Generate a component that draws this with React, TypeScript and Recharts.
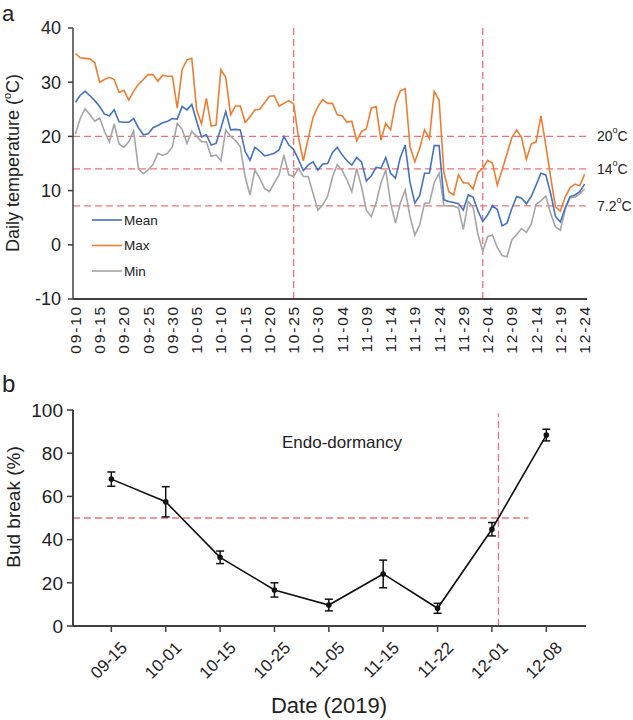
import React from 'react';
import { LineChart, Line, XAxis, YAxis, ReferenceLine, ErrorBar } from 'recharts';

const FONT = '"Liberation Sans", Arial, sans-serif';
const AXIS = '#404040';
const REF = '#F0707A';

// panel a: daily temperature, one value per day from 09-10 to 12-24
const dayTicks = [
  '09-10', '09-15', '09-20', '09-25', '09-30', '10-05', '10-10', '10-15', '10-20', '10-25', '10-30',
  '11-04', '11-09', '11-14', '11-19', '11-24', '11-29', '12-04', '12-09', '12-14', '12-19', '12-24',
];

const maxTemp = [
  35.3, 34.5, 34.4, 34.3, 33.6, 30.0, 30.5, 30.9, 30.5, 28.1,
  28.5, 26.7, 28.3, 29.6, 30.5, 31.4, 31.4, 30.2, 31.3, 31.1,
  31.1, 25.2, 32.3, 34.1, 34.4, 24.9, 22.3, 27.0, 21.9, 22.1,
  32.3, 30.9, 24.0, 25.6, 25.6, 22.6, 23.6, 24.9, 25.0, 26.2,
  27.4, 27.5, 25.6, 26.1, 26.6, 26.0, 19.8, 15.5, 19.6, 23.5,
  25.5, 26.8, 26.1, 26.1, 24.0, 23.8, 22.6, 22.8, 19.2, 20.9,
  21.4, 25.2, 25.5, 19.3, 22.4, 21.2, 26.1, 28.4, 28.8, 18.1,
  15.3, 17.8, 21.2, 19.6, 28.3, 26.7, 13.3, 9.8, 9.2, 12.9,
  11.4, 11.4, 10.3, 13.3, 14.1, 15.6, 15.1, 11.0, 13.8, 16.8,
  19.8, 21.2, 19.8, 15.8, 18.6, 19.0, 23.8, 18.4, 12.5, 7.0,
  6.2, 8.8, 10.5, 11.2, 10.9, 13.0,
];

const meanTemp = [
  26.3, 27.6, 28.3, 27.5, 26.6, 25.5, 24.1, 23.8, 24.9, 22.7,
  22.6, 22.6, 23.3, 21.6, 20.3, 20.5, 21.6, 22.0, 22.5, 22.8,
  23.3, 23.2, 25.5, 24.9, 25.9, 22.8, 19.9, 20.3, 18.4, 18.7,
  21.5, 24.6, 21.2, 21.3, 21.2, 17.2, 15.6, 18.0, 17.3, 16.4,
  16.6, 16.9, 17.5, 20.0, 18.4, 17.6, 15.7, 13.7, 14.7, 15.3,
  13.8, 14.9, 15.0, 17.0, 18.0, 16.6, 15.5, 14.7, 16.1, 15.3,
  11.8, 12.7, 14.3, 14.1, 16.1, 13.2, 12.3, 16.1, 18.4, 11.5,
  7.7, 9.1, 13.2, 13.2, 18.3, 18.3, 8.3, 8.0, 7.8, 7.6,
  6.4, 9.2, 8.8, 6.3, 4.3, 5.5, 7.2, 6.5, 3.5, 4.0,
  6.7, 8.9, 8.6, 7.6, 8.9, 11.0, 13.2, 12.9, 9.5, 5.2,
  4.2, 6.8, 8.9, 9.2, 9.8, 11.2,
];

const minTemp = [
  20.5, 23.3, 25.1, 24.0, 22.8, 23.4, 20.9, 19.0, 22.3, 18.6,
  18.0, 19.0, 21.0, 14.0, 13.1, 13.8, 14.8, 16.9, 16.5, 16.9,
  18.1, 22.4, 21.3, 18.7, 20.9, 20.0, 19.0, 19.0, 16.3, 16.6,
  15.5, 21.2, 20.0, 19.3, 18.1, 12.6, 9.2, 13.8, 12.3, 10.4,
  9.8, 11.4, 12.9, 16.6, 12.9, 12.6, 14.1, 12.6, 12.6, 9.5,
  6.4, 7.4, 8.9, 12.5, 14.8, 13.7, 12.0, 9.8, 14.1, 10.7,
  6.4, 5.2, 7.7, 11.4, 13.8, 7.7, 4.0, 7.7, 10.1, 5.2,
  1.8, 3.7, 7.7, 7.7, 11.5, 13.2, 7.2, 7.2, 7.1, 6.8,
  2.8, 8.0, 7.0, 2.0, -1.2, 1.5, 1.8, -0.5, -2.0, -2.2,
  0.9, 1.9, 3.0, 2.3, 3.8, 7.5, 8.1, 9.0, 5.8, 3.3,
  2.7, 6.5, 8.7, 8.8, 9.4, 10.3,
];

const tempTicks = [-10, 0, 10, 20, 30, 40];
const thresholds = [20, 14, 7.2];
const periodLines = [45, 84]; // day index of the two dashed verticals

// panel b: bud break
const budDates = ['09-15', '10-01', '10-15', '10-25', '11-05', '11-15', '11-22', '12-01', '12-08'];
const budBreak = [68.0, 57.5, 31.8, 16.7, 9.7, 24.1, 8.2, 44.8, 88.4];
const budErr = [3.3, 7.0, 2.9, 3.3, 2.7, 6.4, 2.3, 3.1, 2.7];
const budTicks = [0, 20, 40, 60, 80, 100];
const budDomain = [-0.705, 8.73];
const halfLineEnd = 7.67;
const breakPoint = 7.12;

const series = [
  { key: 'min', name: 'Min', color: '#A5A5A5' },
  { key: 'max', name: 'Max', color: '#ED7D31' },
  { key: 'mean', name: 'Mean', color: '#4472C4' },
];

const DayTick = (props: any) => {
  const { x, y, payload } = props;
  const ty = y - 2;
  return (
    <text x={x} y={ty} transform={`rotate(-90 ${x} ${ty})`} textAnchor="end" dominantBaseline="central"
      fontSize={15.5} letterSpacing={1.8} fill="#222" fontFamily={FONT}>
      {dayTicks[Math.round(payload.value / 5)]}
    </text>
  );
};

const BudTick = (props: any) => {
  const { x, y, payload } = props;
  const tx = x + 13;
  const ty = y + 11;
  return (
    <text x={tx} y={ty} transform={`rotate(-45 ${tx} ${ty})`} textAnchor="end" dominantBaseline="central"
      fontSize={17} fill="#222" fontFamily={FONT}>
      {budDates[payload.value]}
    </text>
  );
};

const ThresholdLabel = (value: number) => (props: any) => {
  const vb = props.viewBox || {};
  const x = (vb.x || 0) + (vb.width || 0) + 10;
  const y = vb.y || 0;
  return (
    <text x={x} y={y} dominantBaseline="central" fontSize={14} fill="#222" fontFamily={FONT}>
      {value}
      <tspan dy={-6} fontSize={9}>o</tspan>
      <tspan dy={6}>C</tspan>
    </text>
  );
};

const TempTitle = () => (
  <text x={13} y={163} transform="rotate(-90 13 163)" textAnchor="middle" dominantBaseline="central"
    fontSize={18} fill="#222" fontFamily={FONT}>
    Daily temperature (
    <tspan dy={-6} fontSize={11}>o</tspan>
    <tspan dy={6}>C)</tspan>
  </text>
);

const BudTitle = () => (
  <text x={13} y={127} transform="rotate(-90 13 127)" textAnchor="middle" dominantBaseline="central"
    fontSize={19} fill="#222" fontFamily={FONT}>
    Bud break (%)
  </text>
);

const DateTitle = () => (
  <text x={329} y={333} textAnchor="middle" fontSize={22} fill="#222" fontFamily={FONT}>
    Date (2019)
  </text>
);

export default function App() {
  const tempData = meanTemp.map((m, i) => ({ day: i, mean: m, max: maxTemp[i], min: minTemp[i] }));
  const budData = budBreak.map((v, i) => ({ idx: i, value: v, err: budErr[i] }));
  const dayTickValues = dayTicks.map((_, k) => k * 5);
  const budTickValues = budDates.map((_, k) => k);

  return (
    <div style={{ position: 'absolute', left: 0, top: 0, width: 633, height: 720, background: '#fff', fontFamily: FONT }}>
      <div style={{ position: 'absolute', left: 0, top: 0 }}>
        <LineChart width={633} height={375} data={tempData} margin={{ top: 28, right: 46, bottom: 6, left: 0 }}>
          <XAxis dataKey="day" type="number" domain={[-0.5, 105.5]} ticks={dayTickValues} interval={0}
            allowDataOverflow tick={<DayTick />} tickLine={false} height={70}
            axisLine={{ stroke: AXIS, strokeWidth: 2 }} />
          <YAxis domain={[-10, 40]} ticks={tempTicks} width={73} allowDataOverflow
            tick={{ fontSize: 18, fill: '#222', fontFamily: FONT }} tickSize={5} tickMargin={7}
            tickLine={{ stroke: AXIS, strokeWidth: 1.5 }} axisLine={{ stroke: AXIS, strokeWidth: 1.5 }}
            label={<TempTitle />} />
          {thresholds.map((t) => (
            <ReferenceLine key={t} y={t} stroke={REF} strokeWidth={1.3} strokeDasharray="7 4"
              label={ThresholdLabel(t)} />
          ))}
          {periodLines.map((d) => (
            <ReferenceLine key={d} x={d} stroke={REF} strokeWidth={1.3} strokeDasharray="7 4" />
          ))}
          {series.map((s) => (
            <Line key={s.key} dataKey={s.key} name={s.name} stroke={s.color} strokeWidth={1.6}
              dot={false} type="linear" isAnimationActive={false} />
          ))}
        </LineChart>
      </div>

      <div style={{ position: 'absolute', left: 0, top: 380 }}>
        <LineChart width={633} height={340} data={budData} margin={{ top: 30, right: 47, bottom: 0, left: 0 }}>
          <XAxis dataKey="idx" type="number" domain={budDomain} ticks={budTickValues} interval={0}
            allowDataOverflow tick={<BudTick />} tickSize={6} height={94}
            tickLine={{ stroke: AXIS, strokeWidth: 1.5 }} axisLine={{ stroke: AXIS, strokeWidth: 2 }}
            label={<DateTitle />} />
          <YAxis domain={[0, 100]} ticks={budTicks} width={73} allowDataOverflow
            tick={{ fontSize: 19, fill: '#222', fontFamily: FONT }} tickSize={6} tickMargin={4}
            tickLine={{ stroke: AXIS, strokeWidth: 1.5 }} axisLine={{ stroke: AXIS, strokeWidth: 2 }}
            label={<BudTitle />} />
          <ReferenceLine segment={[{ x: budDomain[0], y: 50 }, { x: halfLineEnd, y: 50 }]}
            stroke={REF} strokeWidth={1.3} strokeDasharray="7 4" />
          <ReferenceLine segment={[{ x: breakPoint, y: 0 }, { x: breakPoint, y: 98.5 }]}
            stroke={REF} strokeWidth={1.3} strokeDasharray="7 4" />
          <Line dataKey="value" stroke="#111" strokeWidth={1.6} type="linear" isAnimationActive={false}
            dot={{ r: 2, fill: '#111', stroke: '#111' }}>
            <ErrorBar dataKey="err" width={4} stroke="#111" strokeWidth={1.5} direction="y" isAnimationActive={false} />
          </Line>
        </LineChart>
      </div>

      <svg width={633} height={720} style={{ position: 'absolute', left: 0, top: 0, pointerEvents: 'none' }}>
        <text x={2} y={21} fontSize={22} fill="#222" fontFamily={FONT}>a</text>
        <text x={2} y={392} fontSize={24} fill="#222" fontFamily={FONT}>b</text>
        {[...series].reverse().map((s, k) => (
          <g key={s.key}>
            <line x1={92} x2={122} y1={220 + k * 25.5} y2={220 + k * 25.5} stroke={s.color} strokeWidth={1.6} />
            <text x={124} y={220 + k * 25.5} dominantBaseline="central" fontSize={13.5} fill="#222" fontFamily={FONT}>
              {s.name}
            </text>
          </g>
        ))}
        <text x={282} y={442} dominantBaseline="central" fontSize={17} fill="#222" fontFamily={FONT}>Endo-dormancy</text>
      </svg>
    </div>
  );
}
